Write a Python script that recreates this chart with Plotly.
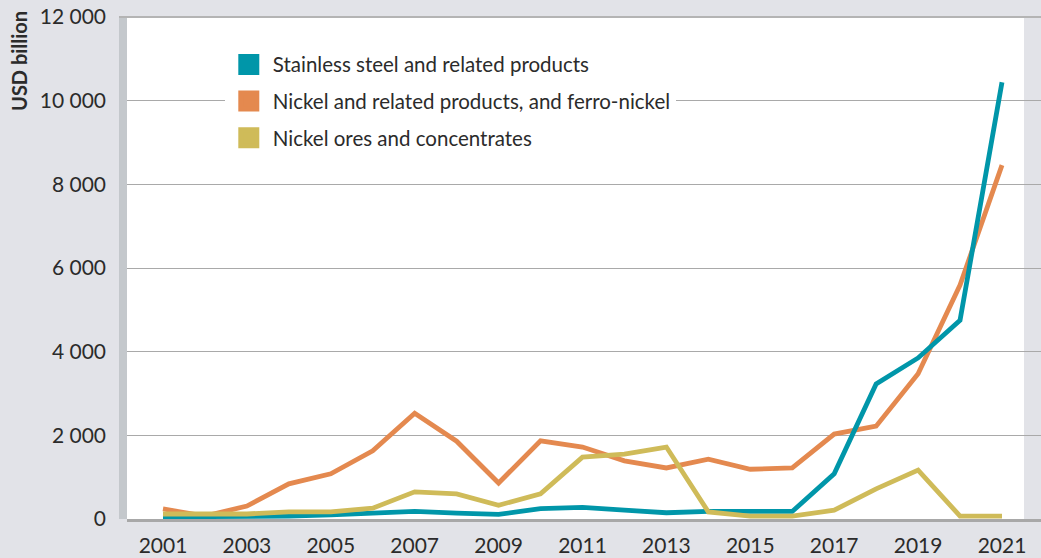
import plotly.graph_objects as go

years = list(range(2001, 2022))

stainless = [50, 50, 50, 70, 100, 150, 180, 140, 110, 250, 280, 210, 150, 180, 180, 180,
             1080, 3230, 3850, 4750, 10440]
nickel = [240, 70, 310, 840, 1080, 1630, 2530, 1860, 860, 1870, 1720, 1390, 1220, 1430, 1190, 1220,
          2030, 2220, 3470, 5590, 8460]
ores = [120, 120, 120, 170, 170, 260, 650, 600, 330, 600, 1480, 1550, 1720, 170, 70, 70,
        210, 720, 1170, 70, 70]

series_names = ["Stainless steel and related products",
                "Nickel and related products, and ferro-nickel",
                "Nickel ores and concentrates"]
colors = ["#0096a9", "#e4894f", "#cfbb59"]

bg = "#e2e3e8"
font_name = "Lato"
txt = "#2b2b2b"

fig = go.Figure()

# Lines (no legend entries), drawn orange first so teal/yellow sit on top
for vals, col in [(nickel, colors[1]), (stainless, colors[0]), (ores, colors[2])]:
    fig.add_trace(go.Scatter(x=years, y=vals, mode="lines", showlegend=False,
                             line=dict(color=col, width=4.8), hoverinfo="skip"))

# Square legend markers
for i, (name, col) in enumerate(zip(series_names, colors)):
    fig.add_trace(go.Scatter(x=[None], y=[None], mode="markers", name=name,
                             legendgroup=str(i),
                             marker=dict(symbol="square", size=16, color=col,
                                         line=dict(color=col, width=5))))

fig.update_layout(
    width=1041, height=558,
    margin=dict(l=127, r=0, t=17, b=39),
    paper_bgcolor=bg,
    plot_bgcolor=bg,
    separators=". ",
    font=dict(family=font_name, size=21, color=txt),
    legend=dict(x=0.107, y=0.945, xanchor="left", yanchor="top",
                bgcolor="white", font=dict(size=20.5, color=txt),
                itemwidth=38, tracegroupgap=7, itemclick=False),
    shapes=[
        # white plotting panel
        dict(type="rect", xref="paper", yref="paper", x0=0, x1=0.9814, y0=0, y1=1,
             fillcolor="white", line=dict(width=0), layer="below"),
        # grey bar on the left
        dict(type="rect", xref="paper", yref="paper", x0=-8 / 914, x1=0, y0=0, y1=1,
             fillcolor="#c4c8cc", line=dict(width=0), layer="above"),
        # top border
        dict(type="line", xref="paper", yref="paper", x0=-8 / 914, x1=1, y0=1, y1=1,
             line=dict(color="#b4b4b4", width=2)),
    ],
    annotations=[
        dict(text="<b>USD billion</b>", xref="paper", yref="paper",
             x=(19 - 127) / 914, y=1.016, xanchor="center", yanchor="top",
             textangle=-90, showarrow=False, font=dict(size=20, color=txt)),
    ],
)

fig.update_xaxes(range=[2000.142, 2021.93], tickmode="linear", tick0=2001, dtick=2,
                 showgrid=False, zeroline=False, showline=True, linecolor="#a8a8a8",
                 linewidth=3, ticks="", ticklabelstandoff=6,
                 tickfont=dict(size=21, color=txt))
fig.update_yaxes(range=[0, 12000], tickmode="linear", tick0=0, dtick=2000,
                 tickformat=",", showgrid=True, gridcolor="#a9a9a9", gridwidth=1,
                 zeroline=False, showline=False, ticks="", ticklabelstandoff=20,
                 tickfont=dict(size=21, color=txt))

fig.write_html("out.html", config={"displayModeBar": False},
               post_script="document.body.style.margin='0';"
                           "document.body.style.background='%s';" % bg)
